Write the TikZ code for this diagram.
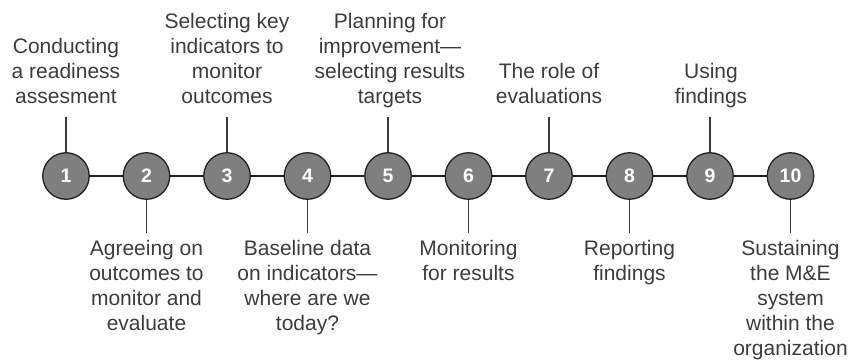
\documentclass[tikz,border=0pt]{standalone}
\usepackage{fontspec}
\setmainfont{Liberation Sans}
\definecolor{stagefill}{HTML}{7F7F7F}
\definecolor{stageedge}{HTML}{222222}
\definecolor{linkcol}{HTML}{1E1E1E}
\definecolor{tickcol}{HTML}{3A3A3A}
\definecolor{txtcol}{HTML}{3C3C3C}
\begin{document}
\begin{tikzpicture}[x=1pt,y=1pt,
  stage/.style={circle, draw=stageedge, line width=1.3pt, fill=stagefill,
    minimum size=46.5pt, inner sep=0pt, text=white,
    font=\fontsize{19.5}{19.5}\selectfont\bfseries},
  lbl/.style={align=center, anchor=base, inner sep=0pt, text=txtcol,
    font=\fontsize{21}{25}\selectfont},
  link/.style={draw=linkcol, line width=2.8pt},
  tick/.style={draw=tickcol, line width=1.1pt}]
\useasboundingbox (0,0) rectangle (849,-361);
% stages
\foreach \i in {1,...,10}{
  \node[stage] (c\i) at ({66+80.5*(\i-1)},-176) {\i};
}
% links between stages
\foreach \i in {1,...,9}{
  \pgfmathtruncatemacro{\j}{\i+1}
  \draw[link] (c\i) -- (c\j);
}
% ticks up (odd) and down (even)
\foreach \i in {1,3,5,7,9}{
  \coordinate (t\i) at (c\i |- 0,-117);
  \draw[tick] (c\i.north) -- (t\i);
}
\foreach \i in {2,4,6,8,10}{
  \coordinate (b\i) at (c\i |- 0,-233);
  \draw[tick] (c\i.south) -- (b\i);
}
% top labels (base = last line baseline)
\node[lbl] (l1) at (66,-103) {Conducting\\a readiness\\assesment};
\node[lbl] (l3) at (227,-103) {Selecting key\\indicators to\\monitor\\outcomes};
\node[lbl] (l5) at (390,-103) {Planning for\\improvement—\\selecting results\\targets};
\node[lbl] (l7) at (549,-103) {The role of\\evaluations};
\node[lbl] (l9) at (711,-103) {Using\\findings};
% bottom labels
\node[lbl] (l2) at (146.5,-330.5) {Agreeing on\\outcomes to\\monitor and\\evaluate};
\node[lbl] (l4) at (307.5,-330.5) {Baseline data\\on indicators—\\where are we\\today?};
\node[lbl] (l6) at (468.5,-280.5) {Monitoring\\for results};
\node[lbl] (l8) at (629.5,-280.5) {Reporting\\findings};
\node[lbl] (l10) at (790.5,-355.5) {Sustaining\\the M\&E\\system\\within the\\organization};
\end{tikzpicture}
\end{document}
